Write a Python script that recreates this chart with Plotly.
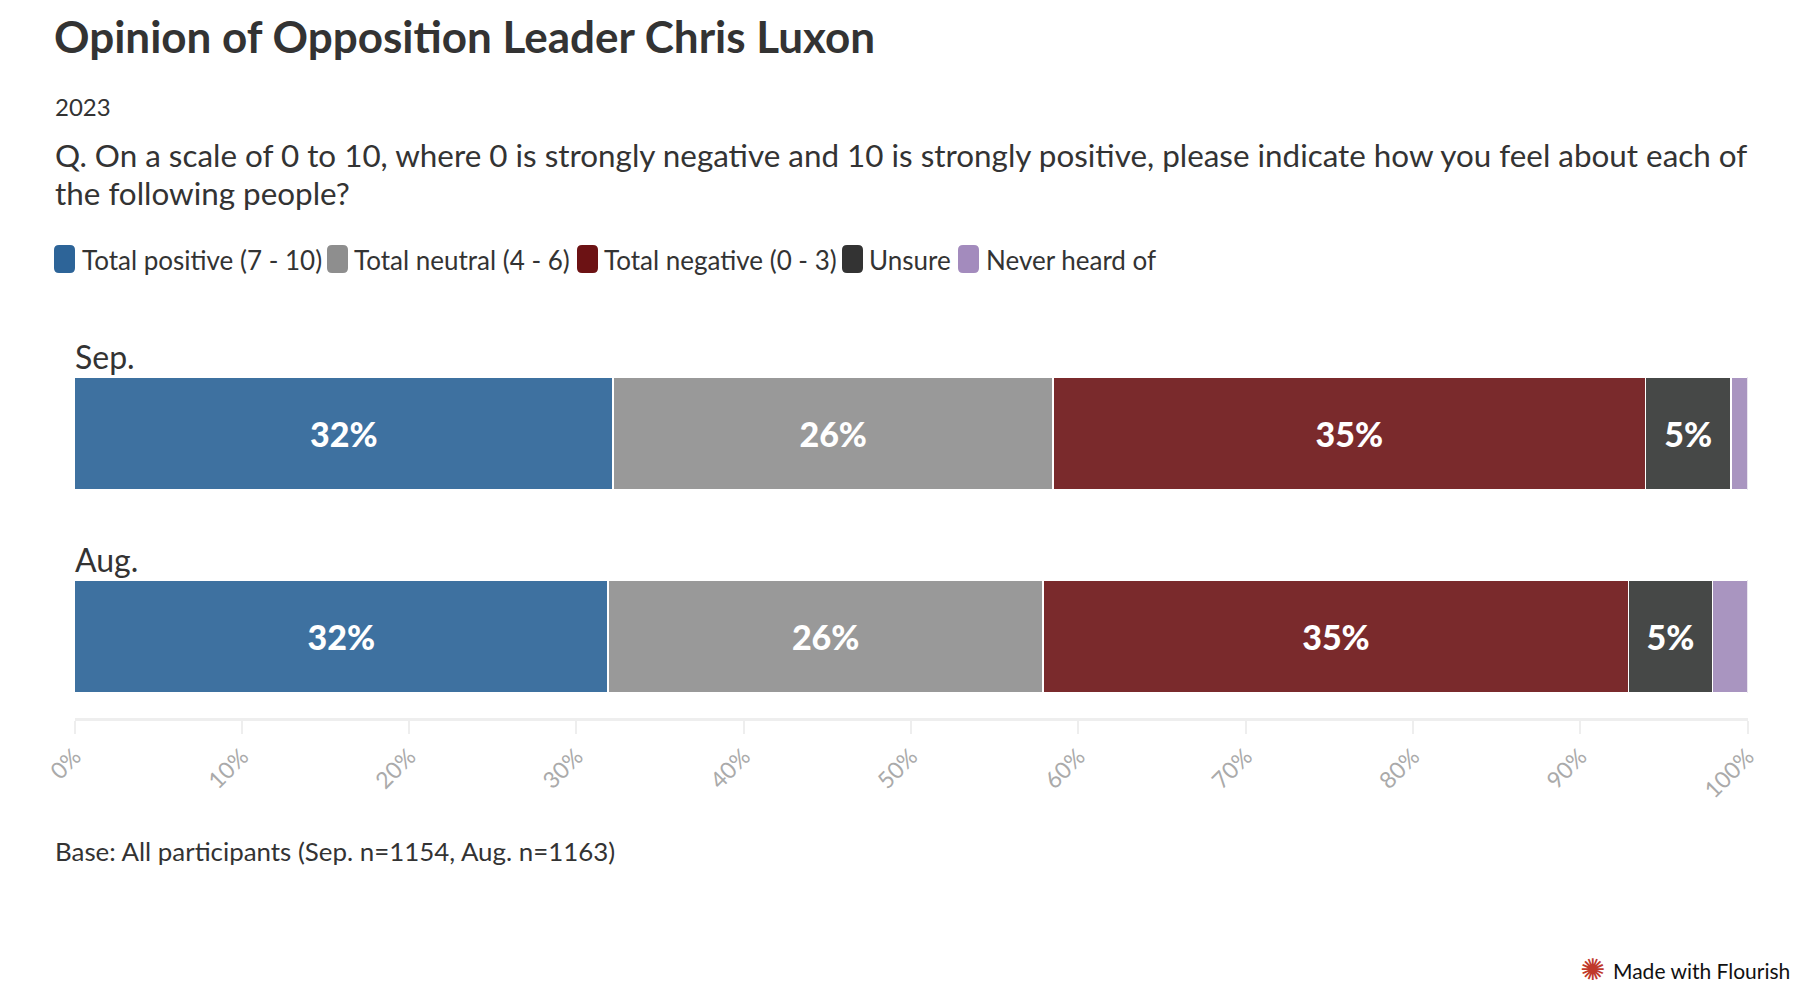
import plotly.graph_objects as go

# ---- data ----
categories = ["Sep.", "Aug."]
series_names = ["Total positive (7 - 10)", "Total neutral (4 - 6)",
                "Total negative (0 - 3)", "Unsure", "Never heard of"]
positive = [32.2, 31.9]
neutral = [26.3, 26.0]
negative = [35.4, 35.0]
unsure = [5.1, 5.0]
never_heard = [1.0, 2.1]
tick_values = [0, 10, 20, 30, 40, 50, 60, 70, 80, 90, 100]
tick_labels = ["0%", "10%", "20%", "30%", "40%", "50%", "60%", "70%", "80%", "90%", "100%"]

series_values = [positive, neutral, negative, unsure, never_heard]
bar_colors = ["#3e71a0", "#999999", "#7a2a2c", "#464847", "#a995c0"]
legend_colors = ["#2d6498", "#8e8e8e", "#6c1214", "#333333", "#a38bbd"]

W, H = 1812, 1000
FONT = "Lato, 'Source Sans Pro', sans-serif"
TXT = "#333333"


def px(x):
    return x / W


def py(y):
    return 1 - y / H


fig = go.Figure()
for name, vals, col in zip(series_names, series_values, bar_colors):
    fig.add_trace(go.Bar(
        y=categories, x=vals, name=name, orientation="h",
        marker=dict(color=col, line=dict(color="white", width=1.5)),
        text=[f"{round(v)}%" if v >= 3 else "" for v in vals],
        textposition="inside", insidetextanchor="middle",
        textfont=dict(family=FONT, size=34, color="white", weight=900),
        constraintext="none",
        showlegend=False, hoverinfo="x+name",
    ))

annotations = []
# Title / subtitle / question
annotations.append(dict(text="<b>Opinion of Opposition Leader Chris Luxon</b>", x=px(52), y=py(36),
                        font=dict(size=44, color=TXT, family=FONT)))
annotations.append(dict(text="2023", x=px(53), y=py(107), font=dict(size=24, color=TXT, family=FONT)))
annotations.append(dict(text="Q. On a scale of 0 to 10, where 0 is strongly negative and 10 is strongly positive, please indicate how you feel about each of",
                        x=px(53), y=py(155), font=dict(size=31.4, color=TXT, family=FONT)))
annotations.append(dict(text="the following people?", x=px(53), y=py(193), font=dict(size=31.4, color=TXT, family=FONT)))

# Custom legend
sw_x = [54, 327, 577, 842, 958]
txt_x = [82, 354, 604, 869, 986]
shapes = []
for sx, tx, name, col in zip(sw_x, txt_x, series_names, legend_colors):
    x0, x1, y0, y1, r = sx, sx + 21, 245, 273, 5
    path = (f"M {px(x0 + r)},{py(y0)} L {px(x1 - r)},{py(y0)} Q {px(x1)},{py(y0)} {px(x1)},{py(y0 + r)} "
            f"L {px(x1)},{py(y1 - r)} Q {px(x1)},{py(y1)} {px(x1 - r)},{py(y1)} "
            f"L {px(x0 + r)},{py(y1)} Q {px(x0)},{py(y1)} {px(x0)},{py(y1 - r)} "
            f"L {px(x0)},{py(y0 + r)} Q {px(x0)},{py(y0)} {px(x0 + r)},{py(y0)} Z")
    shapes.append(dict(type="path", path=path, xref="paper", yref="paper",
                       fillcolor=col, line=dict(width=0)))
    annotations.append(dict(text=name, x=px(tx - 2), y=py(260), font=dict(size=26, color=TXT, family=FONT)))

# Footnote
annotations.append(dict(text="Base: All participants (Sep. n=1154, Aug. n=1163)", x=px(53), y=py(851),
                        font=dict(size=25.9, color=TXT, family=FONT)))
annotations.append(dict(text="Made with Flourish", x=px(1611), y=py(970),
                        font=dict(size=21, color="#111111", family=FONT)))
annotations.append(dict(text="✺", x=px(1578), y=py(969),
                        font=dict(size=30, color="#c0392b", family="DejaVu Sans")))

for a in annotations:
    a.update(xref="paper", yref="paper", xanchor="left", yanchor="middle", showarrow=False)

# Category labels above bars
for c in categories:
    annotations.append(dict(text=c, x=0, y=c, xref="x", yref="y", xanchor="left", yanchor="bottom",
                            xshift=-2, yshift=56, showarrow=False, font=dict(size=32, color=TXT, family=FONT)))

fig.update_layout(
    barmode="stack", bargap=0.448,
    width=W, height=H, margin=dict(l=0, r=0, t=0, b=0, autoexpand=False),
    paper_bgcolor="white", plot_bgcolor="white",
    font=dict(family=FONT, color=TXT),
    annotations=annotations, shapes=shapes,
    xaxis=dict(domain=[px(74.5), px(1747.5)], range=[0, 100], tickvals=tick_values, ticktext=tick_labels,
               tickangle=-45, tickfont=dict(size=23, color="#aaaaaa", family=FONT),
               ticks="outside", ticklen=13, tickwidth=2, tickcolor="#eeeeee",
               showline=True, linecolor="#eeeeee", linewidth=3, automargin=False,
               showgrid=False, zeroline=False, fixedrange=True),
    yaxis=dict(domain=[py(718), py(332)], type="category", categoryarray=categories,
               range=[1.4015, -0.5], showticklabels=False, showgrid=False, zeroline=False,
               showline=False, fixedrange=True, automargin=False),
)

fig.write_html("out.html", config={"displayModeBar": False},
               post_script="document.body.style.margin='0';")
